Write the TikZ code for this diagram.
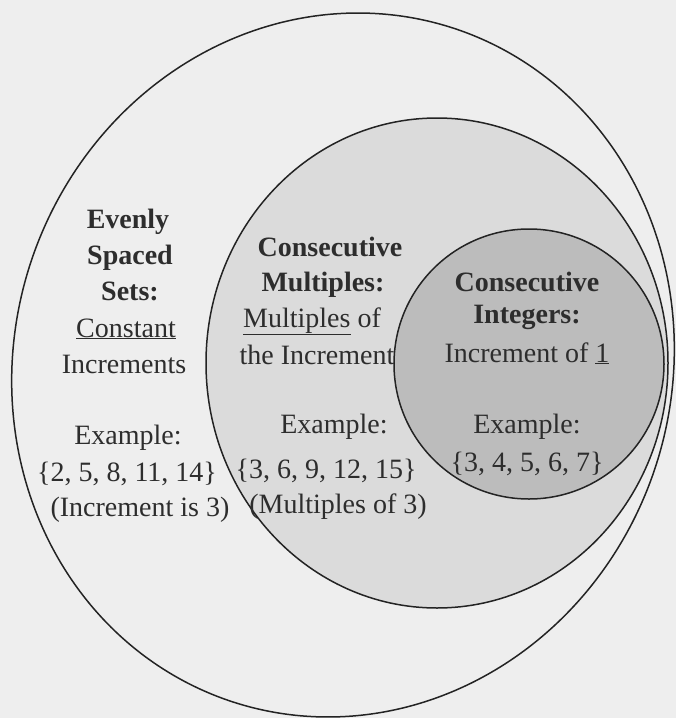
\documentclass[tikz,border=0pt]{standalone}
\usepackage{fontspec}
\setmainfont{Liberation Serif}
\definecolor{bgcol}{RGB}{238,238,238}
\definecolor{midcol}{RGB}{219,219,219}
\definecolor{innercol}{RGB}{188,188,188}
\definecolor{linecol}{RGB}{35,35,35}
\definecolor{txtcol}{RGB}{45,45,45}
\begin{document}
\begin{tikzpicture}[x=1pt,y=-1pt,
  ring/.style={draw=linecol, line width=1.5pt},
  lbl/.style={anchor=base, inner sep=0pt, text=txtcol, font=\fontsize{28}{36}\selectfont},
  hdr/.style={lbl, font=\fontsize{28}{36}\selectfont\bfseries}]
\fill[bgcol] (0,0) rectangle (676,718);
\useasboundingbox (0,0) rectangle (676,718);
% sets
\draw[ring] plot[domain=0:360, samples=240, smooth]
  ({343 + 331*cos(\x) - 15*sin(\x)}, {365 + 352*sin(\x)}) -- cycle;
\draw[ring, fill=midcol] (437,363) ellipse [x radius=231pt, y radius=245pt];
\draw[ring, fill=innercol] (529,364) circle [radius=135pt];
% left block
\node[hdr] (l1) at (128,228) {Evenly};
\node[hdr] (l2) at (130,264) {Spaced};
\node[hdr] (l3) at (130,300) {Sets:};
\node[lbl] (l4) at (126,337) {\underline{Constant}};
\node[lbl] (l5) at (124,373) {Increments};
\node[lbl] (l6) at (128,444) {Example:};
\node[lbl] (l7) at (127,481) {\{2, 5, 8, 11, 14\}};
\node[lbl] (l8) at (140,516) {(Increment is 3)};
% middle block
\node[hdr] (m1) at (330,256) {Consecutive};
\node[hdr] (m2) at (323,291) {Multiples:};
\node[lbl] (m3) at (312,327) {\underline{Multiples} of};
\node[lbl] (m4) at (317,364) {the Increment};
\node[lbl] (m5) at (334,433) {Example:};
\node[lbl] (m6) at (326,478) {\{3, 6, 9, 12, 15\}};
\node[lbl] (m7) at (338,513) {(Multiples of 3)};
% inner block
\node[hdr] (i1) at (527,291) {Consecutive};
\node[hdr] (i2) at (527,323) {Integers:};
\node[lbl] (i3) at (527,362) {Increment of \underline{1}};
\node[lbl] (i4) at (527,433) {Example:};
\node[lbl] (i5) at (527,471) {\{3, 4, 5, 6, 7\}};
\end{tikzpicture}
\end{document}
